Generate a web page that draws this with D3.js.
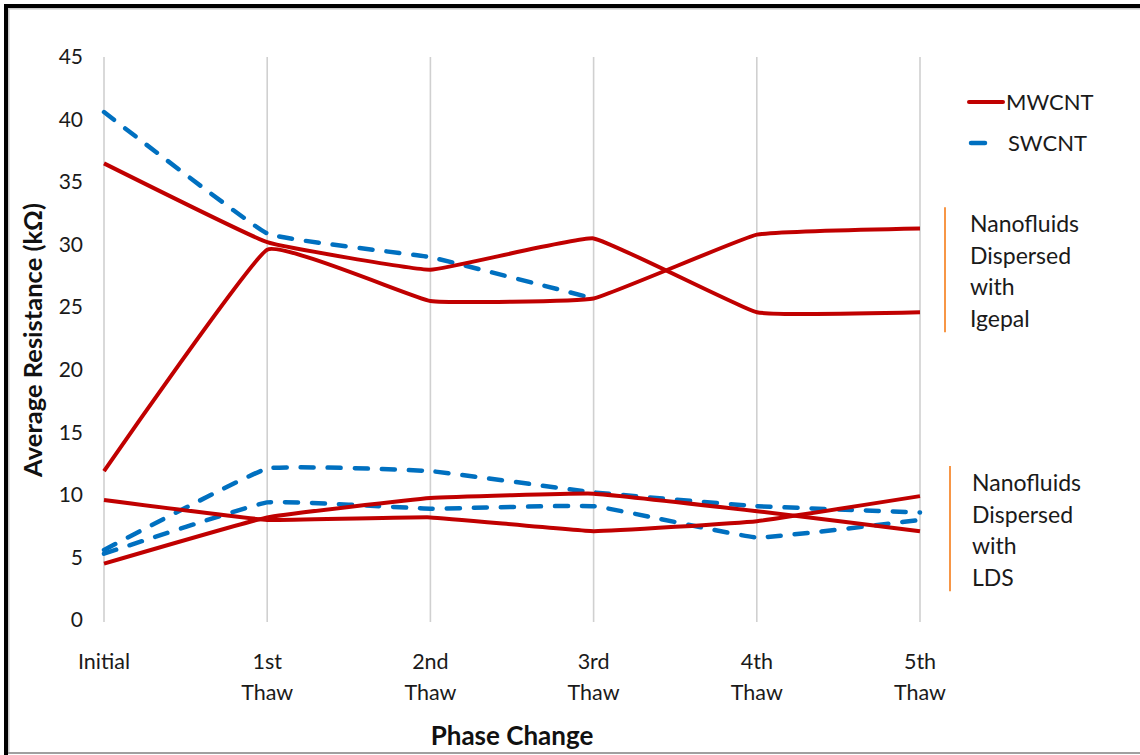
<!DOCTYPE html>
<html>
<head>
<meta charset="utf-8">
<script src="https://cdnjs.cloudflare.com/ajax/libs/d3/7.8.5/d3.min.js"></script>
<style>
  body { margin: 0; background: #fff; }
  svg { display: block; font-family: Lato, "Open Sans", sans-serif; }
</style>
</head>
<body>
<svg id="chart" width="1140" height="755"></svg>
<script>
// categories (x axis), two lines per label
const phases = [["Initial"], ["1st", "Thaw"], ["2nd", "Thaw"], ["3rd", "Thaw"], ["4th", "Thaw"], ["5th", "Thaw"]];
const yTicks = [0, 5, 10, 15, 20, 25, 30, 35, 40, 45];

// MWCNT series (red, solid)
const mwIgepalA = [36.5, 30.2, 28.0, 30.5, 24.6, 24.6];
const mwIgepalB = [11.9, 29.6, 25.5, 25.7, 30.8, 31.3];
const mwLdsA = [9.6, 8.0, 8.2, 7.1, 7.9, 9.9];
const mwLdsB = [4.5, 8.2, 9.75, 10.1, 8.7, 7.1];

// SWCNT series (blue, dashed)
const swIgepal = [40.6, 30.9, 29.0, 25.7];
const swLdsA = [5.6, 12.1, 11.9, 10.2, 9.1, 8.6];
const swLdsB = [5.3, 9.4, 8.9, 9.1, 6.6, 8.0];

const groups = [
  { label: ["Nanofluids", "Dispersed", "with", "Igepal"], range: [23, 33] },
  { label: ["Nanofluids", "Dispersed", "with", "LDS"], range: [2.3, 12.3] }
];

const red = "#c00000", blue = "#0070c0", orange = "#f79646";

const svg = d3.select("#chart");

// frame
svg.append("rect").attr("x", 4).attr("y", 4).attr("width", 1140).attr("height", 4).attr("fill", "#000");
svg.append("rect").attr("x", 4).attr("y", 4).attr("width", 4).attr("height", 755).attr("fill", "#000");
svg.append("rect").attr("x", 8).attr("y", 8).attr("width", 1132).attr("height", 1.5).attr("fill", "#c8c8c8");
svg.append("rect").attr("x", 8).attr("y", 8).attr("width", 1.5).attr("height", 745).attr("fill", "#c8c8c8");
svg.append("rect").attr("x", 8).attr("y", 752).attr("width", 1132).attr("height", 2).attr("fill", "#a0a0a0");

const x = d3.scalePoint()
  .domain(d3.range(phases.length))
  .range([104, 920]);

const y = d3.scaleLinear()
  .domain([0, 45])
  .range([620, 57]);

// vertical gridlines
svg.append("g")
  .selectAll("line")
  .data(d3.range(phases.length))
  .enter().append("line")
  .attr("x1", d => x(d)).attr("x2", d => x(d))
  .attr("y1", y(45)).attr("y2", y(0) + 2)
  .attr("stroke", "#d0d0d0")
  .attr("stroke-width", 1.6);

// y axis labels
const yAxis = svg.append("g")
  .attr("transform", "translate(83,0)")
  .call(d3.axisLeft(y).tickValues(yTicks).tickSize(0).tickPadding(0));
yAxis.select(".domain").remove();
yAxis.selectAll("text")
  .attr("font-family", "Lato, sans-serif")
  .attr("font-size", 21)
  .attr("fill", "#1a1a1a");

// x axis labels
const xLab = svg.append("g");
phases.forEach((p, i) => {
  const t = xLab.append("text")
    .attr("x", x(i))
    .attr("y", 669)
    .attr("text-anchor", "middle")
    .attr("font-size", 21.5)
    .attr("fill", "#1a1a1a");
  p.forEach((s, j) => {
    t.append("tspan").attr("x", x(i)).attr("dy", j === 0 ? 0 : 31).text(s);
  });
});

// axis titles
svg.append("text")
  .attr("transform", "translate(42,340) rotate(-90)")
  .attr("text-anchor", "middle")
  .attr("font-size", 25.5)
  .attr("font-weight", "bold")
  .attr("fill", "#111")
  .text("Average Resistance (kΩ)");

svg.append("text")
  .attr("x", 512).attr("y", 745)
  .attr("text-anchor", "middle")
  .attr("font-size", 26)
  .attr("font-weight", "bold")
  .attr("fill", "#111")
  .text("Phase Change");

// lines (lightly smoothed)
const line = d3.line()
  .x((d, i) => x(i))
  .y(d => y(d))
  .curve(d3.curveCardinal.tension(0.72));

const series = [
  { v: swIgepal, c: blue, dash: true },
  { v: swLdsA, c: blue, dash: true },
  { v: swLdsB, c: blue, dash: true },
  { v: mwIgepalA, c: red, dash: false },
  { v: mwIgepalB, c: red, dash: false },
  { v: mwLdsA, c: red, dash: false },
  { v: mwLdsB, c: red, dash: false }
];

svg.append("g")
  .selectAll("path")
  .data(series)
  .enter().append("path")
  .attr("d", d => line(d.v))
  .attr("fill", "none")
  .attr("stroke", d => d.c)
  .attr("stroke-width", d => d.dash ? 4.5 : 4)
  .attr("stroke-linecap", d => d.dash ? "round" : "butt")
  .attr("stroke-linejoin", "round")
  .attr("stroke-dasharray", d => d.dash ? "13 14" : null);

// legend
const legend = svg.append("g");
legend.append("line")
  .attr("x1", 969).attr("x2", 1003).attr("y1", 102).attr("y2", 102)
  .attr("stroke", red).attr("stroke-width", 4).attr("stroke-linecap", "round");
legend.append("text").attr("x", 1006).attr("y", 110).attr("font-size", 22).attr("fill", "#1a1a1a").text("MWCNT");
legend.append("line")
  .attr("x1", 971).attr("x2", 985).attr("y1", 143).attr("y2", 143)
  .attr("stroke", blue).attr("stroke-width", 4.5).attr("stroke-linecap", "round");
legend.append("text").attr("x", 1008).attr("y", 151).attr("font-size", 22).attr("fill", "#1a1a1a").text("SWCNT");

// group annotations
groups.forEach((g, k) => {
  const bx = k === 0 ? 945 : 950;
  svg.append("line")
    .attr("x1", bx).attr("x2", bx)
    .attr("y1", y(g.range[1])).attr("y2", y(g.range[0]))
    .attr("stroke", orange).attr("stroke-width", 2);
  const top = y(g.range[1]) + 25;
  g.label.forEach((s, j) => {
    svg.append("text")
      .attr("x", 970 + (k === 0 ? 0 : 2))
      .attr("y", top + j * 31.5)
      .attr("font-size", 23)
      .attr("fill", "#1a1a1a")
      .text(s);
  });
});
</script>
</body>
</html>
